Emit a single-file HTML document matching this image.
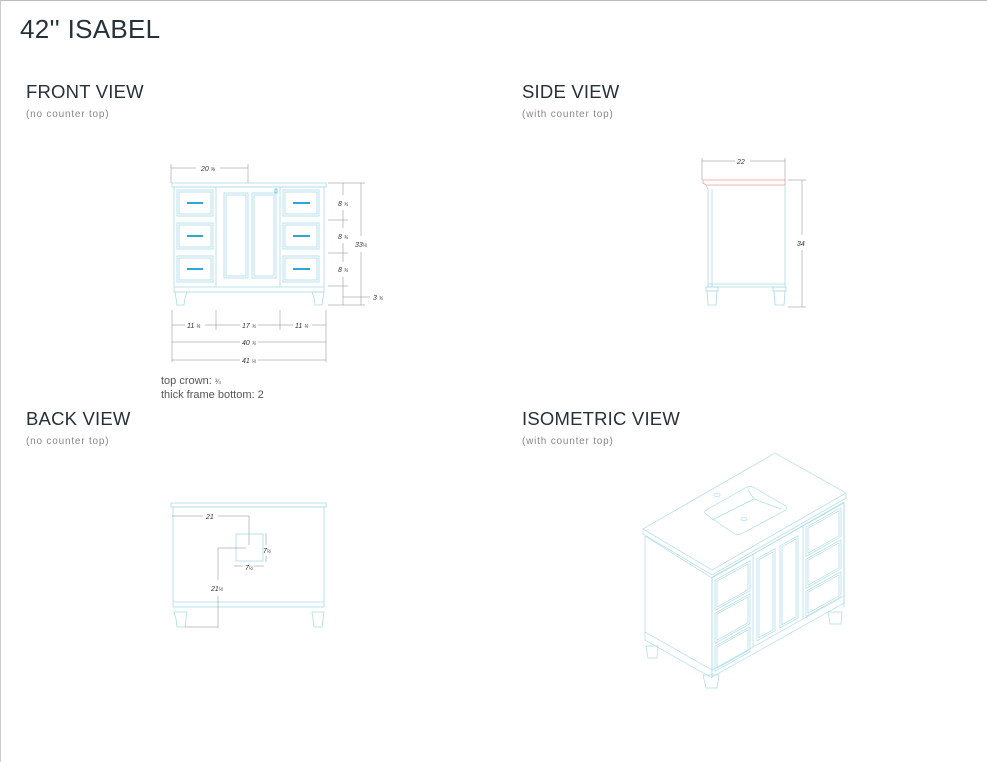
<!DOCTYPE html>
<html><head><meta charset="utf-8"><style>
html,body{margin:0;padding:0;background:#fff;}
body{width:987px;height:762px;position:relative;overflow:hidden;font-family:"Liberation Sans",sans-serif;}
.frame{position:absolute;left:0;top:0;width:986px;height:761px;border-top:1px solid #bbb;border-left:1px solid #ccc;}
.t{position:absolute;color:#26313a;white-space:nowrap;}
.h1{left:20px;top:14px;font-size:26px;letter-spacing:0.3px;}
.h2{font-size:18.5px;letter-spacing:0.2px;}
.sub{font-size:10px;color:#888;letter-spacing:0.8px;}
.note{font-size:11px;color:#555;line-height:12px;}
svg{position:absolute;left:0;top:0;}
</style></head><body>
<div class="frame"></div>
<div class="t h1">42'' ISABEL</div>
<div class="t h2" style="left:26px;top:81px">FRONT VIEW</div>
<div class="t sub" style="left:26px;top:109px">(no counter top)</div>
<div class="t h2" style="left:522px;top:81px">SIDE VIEW</div>
<div class="t sub" style="left:522px;top:109px">(with counter top)</div>
<div class="t h2" style="left:26px;top:408px">BACK VIEW</div>
<div class="t sub" style="left:26px;top:436px">(no counter top)</div>
<div class="t h2" style="left:522px;top:408px">ISOMETRIC VIEW</div>
<div class="t sub" style="left:522px;top:436px">(with counter top)</div>
<div class="t note" style="left:161px;top:375px">top crown: <span style="font-size:7px">¾</span><br>thick frame bottom: 2</div>

<svg width="987" height="762" viewBox="0 0 987 762" fill="none" stroke-width="0.8" font-family="Liberation Sans,sans-serif" font-style="italic">
<!-- FRONT VIEW -->
<g stroke="#a9dbe9">
<rect x="172" y="183" width="154" height="4"/>
<rect x="174" y="187" width="150" height="105"/>
<line x1="174" y1="287" x2="324" y2="287"/>
<line x1="216" y1="187" x2="216" y2="287"/><line x1="280" y1="187" x2="280" y2="287"/>
<rect x="177" y="190" width="36" height="26"/><rect x="179" y="192" width="32" height="22"/>
<rect x="177" y="223" width="36" height="26"/><rect x="179" y="225" width="32" height="22"/>
<rect x="177" y="256" width="36" height="26"/><rect x="179" y="258" width="32" height="22"/>
<rect x="283" y="190" width="36" height="26"/><rect x="285" y="192" width="32" height="22"/>
<rect x="283" y="223" width="36" height="26"/><rect x="285" y="225" width="32" height="22"/>
<rect x="283" y="256" width="36" height="26"/><rect x="285" y="258" width="32" height="22"/>
<rect x="224" y="193" width="24" height="85"/><rect x="226" y="195" width="20" height="81"/>
<rect x="252" y="193" width="24" height="85"/><rect x="254" y="195" width="20" height="81"/>
<path d="M175 292 h12 l-2 6 l-1 7 h-7 l-1-7 z"/><path d="M312 292 h12 l-1 6 l-1 7 h-7 l-1-7 z"/>
</g>
<g stroke="#2aa9d8" stroke-width="2">
<line x1="187" y1="203" x2="203" y2="203"/><line x1="187" y1="236" x2="203" y2="236"/><line x1="187" y1="269" x2="203" y2="269"/>
<line x1="293" y1="203" x2="310" y2="203"/><line x1="293" y1="236" x2="310" y2="236"/><line x1="293" y1="269" x2="310" y2="269"/>
</g>
<rect x="275" y="189" width="2" height="4" stroke="#2aa9d8" stroke-width="0.6"/>
<g stroke="#888" stroke-width="0.5">
<line x1="171" y1="168" x2="196" y2="168"/><line x1="220" y1="168" x2="248" y2="168"/>
<line x1="171" y1="164" x2="171" y2="183"/><line x1="248" y1="164" x2="248" y2="183"/>
<line x1="328" y1="183" x2="365" y2="183"/><line x1="328" y1="220" x2="348" y2="220"/><line x1="328" y1="253" x2="348" y2="253"/><line x1="328" y1="286" x2="348" y2="286"/><line x1="328" y1="305" x2="365" y2="305"/>
<line x1="343" y1="183" x2="343" y2="195"/><line x1="343" y1="210" x2="343" y2="228"/><line x1="343" y1="243" x2="343" y2="262"/><line x1="343" y1="277" x2="343" y2="305"/>
<line x1="361" y1="183" x2="361" y2="236"/><line x1="361" y1="252" x2="361" y2="305"/>
<line x1="343" y1="297" x2="370" y2="297"/>
<line x1="172" y1="310" x2="172" y2="362"/><line x1="216" y1="310" x2="216" y2="330"/><line x1="280" y1="310" x2="280" y2="330"/><line x1="326" y1="310" x2="326" y2="362"/>
<line x1="172" y1="325" x2="185" y2="325"/><line x1="205" y1="325" x2="240" y2="325"/><line x1="258" y1="325" x2="293" y2="325"/><line x1="312" y1="325" x2="326" y2="325"/>
<line x1="172" y1="342" x2="240" y2="342"/><line x1="258" y1="342" x2="326" y2="342"/>
<line x1="172" y1="360" x2="240" y2="360"/><line x1="258" y1="360" x2="326" y2="360"/>
</g>
<g fill="#333" font-size="7">
<text x="201" y="171">20 <tspan font-size="5">⅜</tspan></text>
<text x="338" y="206">8 <tspan font-size="5">¾</tspan></text>
<text x="338" y="239">8 <tspan font-size="5">¾</tspan></text>
<text x="338" y="272">8 <tspan font-size="5">¾</tspan></text>
<text x="355" y="247">33<tspan font-size="5">¼</tspan></text>
<text x="373" y="300">3 <tspan font-size="5">¾</tspan></text>
<text x="187" y="328">11 <tspan font-size="5">¼</tspan></text>
<text x="242" y="328">17 <tspan font-size="5">¾</tspan></text>
<text x="295" y="328">11 <tspan font-size="5">¼</tspan></text>
<text x="242" y="345">40 <tspan font-size="5">¾</tspan></text>
<text x="242" y="363">41 <tspan font-size="5">¼</tspan></text>
</g>

<!-- SIDE VIEW -->
<path d="M703 180 H785 V185 H706 L703 183 Z" stroke="#f29a9a" stroke-width="0.8"/>
<g stroke="#a9dbe9">
<path d="M706 185 L708 189 V287 H785 V185"/>
<line x1="712" y1="189" x2="712" y2="287"/>
<line x1="708" y1="284" x2="785" y2="284"/>
<rect x="706" y="287" width="12" height="4"/><path d="M707 291 h10 l-1 14 h-8 z"/>
<rect x="773" y="287" width="13" height="4"/><path d="M774 291 h11 l-1 14 h-9 z"/>
</g>
<g stroke="#888" stroke-width="0.5">
<line x1="702" y1="161" x2="735" y2="161"/><line x1="750" y1="161" x2="785" y2="161"/>
<line x1="702" y1="158" x2="702" y2="180"/><line x1="785" y1="158" x2="785" y2="180"/>
<line x1="788" y1="180" x2="806" y2="180"/><line x1="788" y1="307" x2="806" y2="307"/>
<line x1="802" y1="180" x2="802" y2="235"/><line x1="802" y1="250" x2="802" y2="307"/>
</g>
<text x="737" y="164" font-size="7" fill="#333">22</text>
<text x="797" y="246" font-size="7" fill="#333">34</text>

<!-- BACK VIEW -->
<g stroke="#a9dbe9">
<rect x="171" y="503" width="155" height="4"/>
<rect x="173" y="507" width="151" height="100"/>
<line x1="173" y1="602" x2="324" y2="602"/>
<rect x="236" y="534" width="27" height="27"/>
<path d="M174 612 h13 l-1 7 l-1 8 h-8 l-1-8 z"/><path d="M312 612 h12 l-1 7 l-1 8 h-8 l-1-8 z"/>
</g>
<g stroke="#888" stroke-width="0.5">
<line x1="172" y1="516" x2="203" y2="516"/><line x1="218" y1="516" x2="249" y2="516"/>
<line x1="249" y1="516" x2="249" y2="545"/>
<line x1="218" y1="548" x2="246" y2="548"/>
<line x1="218" y1="548" x2="218" y2="580"/><line x1="218" y1="596" x2="218" y2="628"/>
<line x1="185" y1="627" x2="218" y2="627"/>
<line x1="266" y1="533" x2="266" y2="545"/><line x1="266" y1="556" x2="266" y2="562"/>
<line x1="234" y1="566" x2="243" y2="566"/><line x1="254" y1="566" x2="264" y2="566"/>
</g>
<g fill="#333" font-size="7">
<text x="206" y="519">21</text>
<text x="263" y="553">7<tspan font-size="5">½</tspan></text>
<text x="245" y="570">7<tspan font-size="5">½</tspan></text>
<text x="211" y="591">21<tspan font-size="5">¼</tspan></text>
</g>

<!-- ISOMETRIC -->
<g stroke="#a9dbe9" stroke-width="0.7">
<path d="M643 529 L775 453 L846 493 L712 570 Z"/>
<path d="M643 529 V534 L712 575 L846 498 V493"/>
<path d="M645 536 L712 578 L844 502"/>
<path d="M645 536 V640 L712 678"/>
<path d="M645 632 L712 670"/>
<line x1="712" y1="578" x2="712" y2="678"/>
<path d="M844 502 V607"/>
<path d="M707 515 Q702 512 708 509 L745 488 Q750 485 755 488 L784 505 Q789 508 784 511 L743 533 Q738 536 733 533 Z"/>
<path d="M748 490 L754 499 L781 509"/><line x1="754" y1="499" x2="712" y2="520"/>
<ellipse cx="717" cy="495" rx="3" ry="1.8"/><ellipse cx="744" cy="519" rx="3" ry="1.8"/>
<path d="M646 646 h12 l-1 12 h-9 z"/><path d="M703 675 h16 l-2 13 h-11 z"/><path d="M828 612 h14 l-1 12 h-11 z"/>
<g transform="matrix(1,-0.56,0,1,0,398.7)">
<rect x="712" y="577" width="132" height="100"/>
<line x1="712" y1="670" x2="844" y2="670"/>
<rect x="715" y="582" width="35" height="30"/><rect x="717" y="584" width="31" height="26"/>
<rect x="715" y="615" width="35" height="30"/><rect x="717" y="617" width="31" height="26"/>
<rect x="715" y="648" width="35" height="25"/><rect x="717" y="650" width="31" height="21"/>
<line x1="753" y1="577" x2="753" y2="670"/><line x1="803" y1="577" x2="803" y2="670"/>
<rect x="757" y="584" width="18" height="82"/><rect x="759" y="586" width="14" height="78"/>
<rect x="780" y="584" width="18" height="82"/><rect x="782" y="586" width="14" height="78"/>
<rect x="806" y="580" width="35" height="29"/><rect x="808" y="582" width="31" height="25"/>
<rect x="806" y="612" width="35" height="29"/><rect x="808" y="614" width="31" height="25"/>
<rect x="806" y="644" width="35" height="25"/><rect x="808" y="646" width="31" height="21"/>
</g>
</g>
</svg>
</body></html>
